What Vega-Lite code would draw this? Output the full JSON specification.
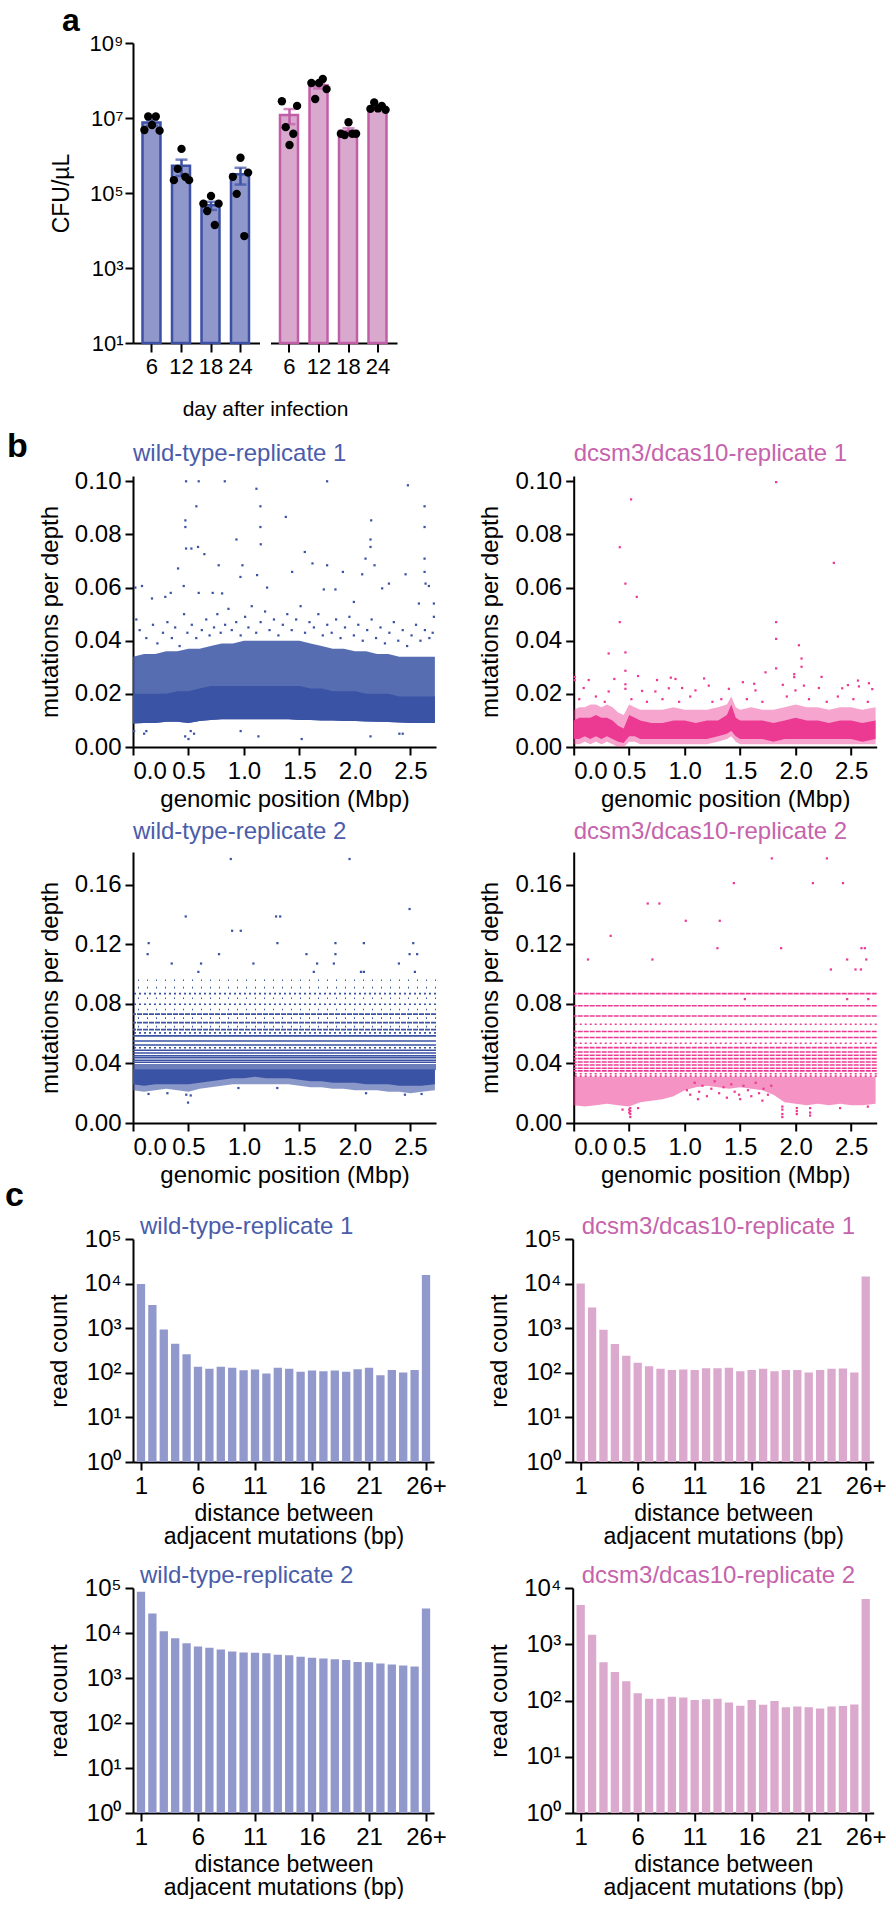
{
"$schema": "https://vega.github.io/schema/vega-lite/v6.json",
"background": "#ffffff",
"padding": {"left": 5, "top": 5, "right": 0, "bottom": 0},
"datasets": {
"cfu": [
{"strain":"wt","day":6,"rep":1,"cfu":4800000},{"strain":"wt","day":6,"rep":2,"cfu":11000000},{"strain":"wt","day":6,"rep":3,"cfu":6500000},{"strain":"wt","day":6,"rep":4,"cfu":11000000},{"strain":"wt","day":6,"rep":5,"cfu":4600000},
{"strain":"wt","day":12,"rep":1,"cfu":220000},{"strain":"wt","day":12,"rep":2,"cfu":440000},{"strain":"wt","day":12,"rep":3,"cfu":1500000},{"strain":"wt","day":12,"rep":4,"cfu":270000},{"strain":"wt","day":12,"rep":5,"cfu":220000},
{"strain":"wt","day":18,"rep":1,"cfu":52000},{"strain":"wt","day":18,"rep":2,"cfu":33000},{"strain":"wt","day":18,"rep":3,"cfu":83000},{"strain":"wt","day":18,"rep":4,"cfu":14000},{"strain":"wt","day":18,"rep":5,"cfu":52000},
{"strain":"wt","day":24,"rep":1,"cfu":270000},{"strain":"wt","day":24,"rep":2,"cfu":95000},{"strain":"wt","day":24,"rep":3,"cfu":870000},{"strain":"wt","day":24,"rep":4,"cfu":7100},{"strain":"wt","day":24,"rep":5,"cfu":350000},
{"strain":"ko","day":6,"rep":1,"cfu":28000000},{"strain":"ko","day":6,"rep":2,"cfu":5700000},{"strain":"ko","day":6,"rep":3,"cfu":1900000},{"strain":"ko","day":6,"rep":4,"cfu":3800000},{"strain":"ko","day":6,"rep":5,"cfu":21000000},
{"strain":"ko","day":12,"rep":1,"cfu":86000000},{"strain":"ko","day":12,"rep":2,"cfu":32000000},{"strain":"ko","day":12,"rep":3,"cfu":86000000},{"strain":"ko","day":12,"rep":4,"cfu":110000000},{"strain":"ko","day":12,"rep":5,"cfu":59000000},
{"strain":"ko","day":18,"rep":1,"cfu":3800000},{"strain":"ko","day":18,"rep":2,"cfu":3500000},{"strain":"ko","day":18,"rep":3,"cfu":7700000},{"strain":"ko","day":18,"rep":4,"cfu":3800000},{"strain":"ko","day":18,"rep":5,"cfu":3800000},
{"strain":"ko","day":24,"rep":1,"cfu":17500000},{"strain":"ko","day":24,"rep":2,"cfu":26000000},{"strain":"ko","day":24,"rep":3,"cfu":18000000},{"strain":"ko","day":24,"rep":4,"cfu":21000000},{"strain":"ko","day":24,"rep":5,"cfu":16500000}
],
"wt1band": [
{"pos":0,"lo":0.0088,"h1":0.020,"h2":0.034},{"pos":0.1,"lo":0.0090,"h1":0.020,"h2":0.035},{"pos":0.2,"lo":0.0090,"h1":0.020,"h2":0.035},{"pos":0.3,"lo":0.0095,"h1":0.020,"h2":0.036},{"pos":0.4,"lo":0.0095,"h1":0.021,"h2":0.036},{"pos":0.5,"lo":0.0090,"h1":0.021,"h2":0.037},{"pos":0.6,"lo":0.0098,"h1":0.022,"h2":0.037},{"pos":0.7,"lo":0.0102,"h1":0.023,"h2":0.038},{"pos":0.8,"lo":0.0104,"h1":0.023,"h2":0.039},{"pos":0.9,"lo":0.0104,"h1":0.023,"h2":0.039},{"pos":1.0,"lo":0.0104,"h1":0.023,"h2":0.040},{"pos":1.1,"lo":0.0104,"h1":0.023,"h2":0.040},{"pos":1.2,"lo":0.0104,"h1":0.023,"h2":0.040},{"pos":1.3,"lo":0.0104,"h1":0.023,"h2":0.040},{"pos":1.4,"lo":0.0104,"h1":0.023,"h2":0.040},{"pos":1.5,"lo":0.0102,"h1":0.023,"h2":0.040},{"pos":1.6,"lo":0.0102,"h1":0.022,"h2":0.039},{"pos":1.7,"lo":0.0100,"h1":0.022,"h2":0.038},{"pos":1.8,"lo":0.0100,"h1":0.021,"h2":0.037},{"pos":1.9,"lo":0.0098,"h1":0.021,"h2":0.037},{"pos":2.0,"lo":0.0098,"h1":0.021,"h2":0.036},{"pos":2.1,"lo":0.0096,"h1":0.020,"h2":0.036},{"pos":2.2,"lo":0.0095,"h1":0.020,"h2":0.035},{"pos":2.3,"lo":0.0094,"h1":0.020,"h2":0.035},{"pos":2.4,"lo":0.0092,"h1":0.019,"h2":0.034},{"pos":2.5,"lo":0.0090,"h1":0.019,"h2":0.034},{"pos":2.6,"lo":0.0090,"h1":0.019,"h2":0.034},{"pos":2.72,"lo":0.0090,"h1":0.019,"h2":0.034}
],
"wt1pts": [
{"pos":0.478,"v":0.100},{"pos":0.592,"v":0.100},{"pos":0.827,"v":0.100},{"pos":1.749,"v":0.100},{"pos":2.477,"v":0.0985},{"pos":1.112,"v":0.0972},{"pos":0.571,"v":0.0906},{"pos":1.148,"v":0.0906},{"pos":2.627,"v":0.0906},{"pos":1.377,"v":0.0866},{"pos":0.472,"v":0.0853},{"pos":0.472,"v":0.0828},{"pos":1.148,"v":0.0828},{"pos":2.146,"v":0.0853},{"pos":2.627,"v":0.0828},{"pos":0.932,"v":0.0781},{"pos":2.140,"v":0.0781},{"pos":2.140,"v":0.0753},{"pos":1.151,"v":0.0763},{"pos":0.478,"v":0.0747},{"pos":0.526,"v":0.0747},{"pos":0.586,"v":0.0753},{"pos":0.643,"v":0.0726},{"pos":1.548,"v":0.0734},{"pos":0.772,"v":0.0684},{"pos":0.986,"v":0.0684},{"pos":1.617,"v":0.0691},{"pos":1.749,"v":0.0684},{"pos":2.095,"v":0.0709},{"pos":2.176,"v":0.0684},{"pos":2.627,"v":0.0709},{"pos":2.627,"v":0.0659},{"pos":2.636,"v":0.0615},{"pos":2.666,"v":0.0606},{"pos":0.406,"v":0.0672},{"pos":1.118,"v":0.0647},{"pos":0.968,"v":0.0640},{"pos":1.891,"v":0.0659},{"pos":2.065,"v":0.0650},{"pos":2.456,"v":0.0650},{"pos":0.021,"v":0.0600},{"pos":0.081,"v":0.0606},{"pos":0.592,"v":0.0580},{"pos":0.718,"v":0.0580},{"pos":0.803,"v":0.0578},{"pos":0.457,"v":0.0606},{"pos":1.208,"v":0.0600},{"pos":1.434,"v":0.0659},{"pos":1.719,"v":0.0593},{"pos":1.824,"v":0.0593},{"pos":2.306,"v":0.0615},{"pos":1.990,"v":0.0546},{"pos":2.245,"v":0.0597},{"pos":0.171,"v":0.0559},{"pos":0.291,"v":0.0565},{"pos":0.340,"v":0.0580},{"pos":2.576,"v":0.0540},{"pos":2.711,"v":0.0540},{"pos":2.711,"v":0.0490},
{"pos":0.03,"v":0.048},{"pos":0.06,"v":0.044},{"pos":0.12,"v":0.041},{"pos":0.18,"v":0.046},{"pos":0.22,"v":0.039},{"pos":0.27,"v":0.043},{"pos":0.31,"v":0.047},{"pos":0.35,"v":0.041},{"pos":0.38,"v":0.045},{"pos":0.42,"v":0.038},{"pos":0.46,"v":0.050},{"pos":0.49,"v":0.043},{"pos":0.53,"v":0.046},{"pos":0.57,"v":0.041},{"pos":0.62,"v":0.044},{"pos":0.66,"v":0.048},{"pos":0.69,"v":0.042},{"pos":0.73,"v":0.045},{"pos":0.76,"v":0.050},{"pos":0.79,"v":0.043},{"pos":0.83,"v":0.046},{"pos":0.86,"v":0.052},{"pos":0.89,"v":0.044},{"pos":0.93,"v":0.047},{"pos":0.97,"v":0.042},{"pos":1.01,"v":0.049},{"pos":1.04,"v":0.045},{"pos":1.07,"v":0.053},{"pos":1.11,"v":0.043},{"pos":1.15,"v":0.047},{"pos":1.19,"v":0.051},{"pos":1.23,"v":0.044},{"pos":1.27,"v":0.048},{"pos":1.31,"v":0.042},{"pos":1.35,"v":0.046},{"pos":1.39,"v":0.050},{"pos":1.43,"v":0.044},{"pos":1.47,"v":0.048},{"pos":1.51,"v":0.053},{"pos":1.55,"v":0.043},{"pos":1.59,"v":0.047},{"pos":1.63,"v":0.045},{"pos":1.67,"v":0.050},{"pos":1.71,"v":0.042},{"pos":1.75,"v":0.046},{"pos":1.79,"v":0.043},{"pos":1.83,"v":0.048},{"pos":1.87,"v":0.041},{"pos":1.91,"v":0.045},{"pos":1.95,"v":0.049},{"pos":1.99,"v":0.042},{"pos":2.03,"v":0.046},{"pos":2.07,"v":0.040},{"pos":2.11,"v":0.044},{"pos":2.15,"v":0.048},{"pos":2.19,"v":0.041},{"pos":2.23,"v":0.045},{"pos":2.27,"v":0.039},{"pos":2.31,"v":0.043},{"pos":2.35,"v":0.047},{"pos":2.39,"v":0.040},{"pos":2.43,"v":0.044},{"pos":2.47,"v":0.038},{"pos":2.51,"v":0.042},{"pos":2.55,"v":0.046},{"pos":2.59,"v":0.040},{"pos":2.63,"v":0.044},{"pos":2.67,"v":0.041},{"pos":2.70,"v":0.043},
{"pos":0.01,"v":0.006},{"pos":0.10,"v":0.005},{"pos":0.12,"v":0.006},{"pos":0.47,"v":0.004},{"pos":0.50,"v":0.003},{"pos":0.52,"v":0.006},{"pos":0.55,"v":0.005},{"pos":0.97,"v":0.006},{"pos":1.13,"v":0.004},{"pos":1.52,"v":0.003},{"pos":2.14,"v":0.004},{"pos":2.40,"v":0.005},{"pos":2.43,"v":0.005}
],
"ko1band": [
{"pos":0,"lo":0.003,"hi":0.010,"lo2":0.001,"hi2":0.014},{"pos":0.05,"lo":0.003,"hi":0.011,"lo2":0.001,"hi2":0.015},{"pos":0.1,"lo":0.004,"hi":0.011,"lo2":0.002,"hi2":0.015},{"pos":0.15,"lo":0.003,"hi":0.011,"lo2":0.001,"hi2":0.016},{"pos":0.2,"lo":0.004,"hi":0.012,"lo2":0.002,"hi2":0.016},{"pos":0.25,"lo":0.003,"hi":0.011,"lo2":0.001,"hi2":0.015},{"pos":0.3,"lo":0.004,"hi":0.011,"lo2":0.002,"hi2":0.016},{"pos":0.35,"lo":0.003,"hi":0.010,"lo2":0.001,"hi2":0.015},{"pos":0.4,"lo":0.002,"hi":0.008,"lo2":0.0,"hi2":0.013},{"pos":0.45,"lo":0.0015,"hi":0.007,"lo2":0.0,"hi2":0.012},{"pos":0.5,"lo":0.004,"hi":0.012,"lo2":0.002,"hi2":0.016},{"pos":0.55,"lo":0.004,"hi":0.011,"lo2":0.002,"hi2":0.015},{"pos":0.6,"lo":0.003,"hi":0.010,"lo2":0.001,"hi2":0.014},{"pos":0.7,"lo":0.003,"hi":0.009,"lo2":0.001,"hi2":0.014},{"pos":0.8,"lo":0.003,"hi":0.009,"lo2":0.001,"hi2":0.014},{"pos":0.9,"lo":0.003,"hi":0.010,"lo2":0.001,"hi2":0.015},{"pos":1.0,"lo":0.003,"hi":0.010,"lo2":0.001,"hi2":0.014},{"pos":1.1,"lo":0.003,"hi":0.009,"lo2":0.001,"hi2":0.014},{"pos":1.2,"lo":0.003,"hi":0.010,"lo2":0.001,"hi2":0.014},{"pos":1.3,"lo":0.004,"hi":0.010,"lo2":0.002,"hi2":0.015},{"pos":1.38,"lo":0.005,"hi":0.012,"lo2":0.003,"hi2":0.016},{"pos":1.42,"lo":0.006,"hi":0.016,"lo2":0.004,"hi2":0.019},{"pos":1.46,"lo":0.004,"hi":0.011,"lo2":0.002,"hi2":0.015},{"pos":1.5,"lo":0.003,"hi":0.010,"lo2":0.001,"hi2":0.014},{"pos":1.6,"lo":0.003,"hi":0.010,"lo2":0.001,"hi2":0.015},{"pos":1.7,"lo":0.003,"hi":0.010,"lo2":0.001,"hi2":0.014},{"pos":1.8,"lo":0.002,"hi":0.009,"lo2":0.001,"hi2":0.014},{"pos":1.9,"lo":0.003,"hi":0.010,"lo2":0.001,"hi2":0.015},{"pos":2.0,"lo":0.003,"hi":0.011,"lo2":0.001,"hi2":0.016},{"pos":2.1,"lo":0.003,"hi":0.010,"lo2":0.001,"hi2":0.015},{"pos":2.2,"lo":0.003,"hi":0.010,"lo2":0.001,"hi2":0.015},{"pos":2.3,"lo":0.003,"hi":0.009,"lo2":0.001,"hi2":0.014},{"pos":2.4,"lo":0.003,"hi":0.010,"lo2":0.001,"hi2":0.015},{"pos":2.5,"lo":0.003,"hi":0.010,"lo2":0.001,"hi2":0.015},{"pos":2.6,"lo":0.002,"hi":0.009,"lo2":0.001,"hi2":0.014},{"pos":2.72,"lo":0.003,"hi":0.010,"lo2":0.001,"hi2":0.015}
],
"ko1pts": [
{"pos":1.824,"v":0.0997},{"pos":0.517,"v":0.0932},{"pos":0.415,"v":0.0752},{"pos":2.344,"v":0.0693},{"pos":0.466,"v":0.0615},{"pos":0.568,"v":0.0565},{"pos":0.415,"v":0.0470},{"pos":1.824,"v":0.0470},{"pos":1.824,"v":0.0407},{"pos":2.029,"v":0.0383},{"pos":2.053,"v":0.0333},{"pos":2.053,"v":0.0302},{"pos":0.315,"v":0.0352},{"pos":0.466,"v":0.0356},{"pos":0.466,"v":0.0287},{"pos":1.824,"v":0.0296},{"pos":1.728,"v":0.0281},{"pos":0.009,"v":0.0264},{"pos":0.009,"v":0.0252},{"pos":0.366,"v":0.0256},{"pos":0.580,"v":0.0267},{"pos":0.751,"v":0.0252},{"pos":0.875,"v":0.0261},{"pos":0.917,"v":0.0256},{"pos":1.175,"v":0.0258},{"pos":1.987,"v":0.0274},{"pos":1.987,"v":0.0263},{"pos":2.233,"v":0.0264},{"pos":2.561,"v":0.0250},{"pos":2.660,"v":0.0240},{"pos":1.524,"v":0.0244},{"pos":1.626,"v":0.0238},{"pos":0.135,"v":0.0252},{"pos":0.466,"v":0.0236},{"pos":0.466,"v":0.0219},{"pos":0.090,"v":0.0222},{"pos":2.471,"v":0.0233},{"pos":1.884,"v":0.0234},{"pos":2.074,"v":0.0231},{"pos":2.209,"v":0.0222},{"pos":2.419,"v":0.0221},{"pos":2.570,"v":0.0228},{"pos":2.690,"v":0.0218},{"pos":1.217,"v":0.0231},{"pos":0.857,"v":0.0221},{"pos":0.977,"v":0.0222},{"pos":1.097,"v":0.0213},{"pos":1.398,"v":0.0219},{"pos":1.638,"v":0.0213},{"pos":0.736,"v":0.0209},{"pos":1.998,"v":0.0213},{"pos":0.315,"v":0.0209},{"pos":0.616,"v":0.0211},
{"pos":0.05,"v":0.018},{"pos":0.2,"v":0.019},{"pos":0.28,"v":0.017},{"pos":0.52,"v":0.018},{"pos":0.66,"v":0.017},{"pos":0.8,"v":0.018},{"pos":0.95,"v":0.017},{"pos":1.05,"v":0.019},{"pos":1.25,"v":0.017},{"pos":1.33,"v":0.018},{"pos":1.56,"v":0.018},{"pos":1.7,"v":0.017},{"pos":1.92,"v":0.019},{"pos":2.12,"v":0.018},{"pos":2.28,"v":0.017},{"pos":2.38,"v":0.019},{"pos":2.52,"v":0.018},{"pos":2.65,"v":0.017}
],
"wt2lines": [
{"lv":0.0959,"dens":"sparse"},{"lv":0.0909,"dens":"sparse"},{"lv":0.0869,"dens":"medium"},{"lv":0.0838,"dens":"sparse"},{"lv":0.0798,"dens":"medium"},{"lv":0.0762,"dens":"sparse"},{"lv":0.0731,"dens":"dense"},{"lv":0.0704,"dens":"sparse"},{"lv":0.0674,"dens":"dense"},{"lv":0.0647,"dens":"sparse"},{"lv":0.0627,"dens":"dense"},{"lv":0.0605,"dens":"medium"},{"lv":0.0585,"dens":"solid"},{"lv":0.0551,"dens":"solid"},{"lv":0.0524,"dens":"solid"},{"lv":0.0505,"dens":"medium"},{"lv":0.0489,"dens":"solid"},{"lv":0.0470,"dens":"solid"},{"lv":0.0452,"dens":"solid"},{"lv":0.0439,"dens":"solid"},{"lv":0.0421,"dens":"solid"},{"lv":0.0408,"dens":"solid"},{"lv":0.0390,"dens":"solid"},{"lv":0.0376,"dens":"solid"},{"lv":0.0363,"dens":"solid"}
],
"wt2band": [
{"pos":0,"lo":0.026,"lo2":0.022,"hi":0.036},{"pos":0.1,"lo":0.025,"lo2":0.021,"hi":0.036},{"pos":0.2,"lo":0.026,"lo2":0.022,"hi":0.036},{"pos":0.3,"lo":0.026,"lo2":0.023,"hi":0.036},{"pos":0.4,"lo":0.026,"lo2":0.022,"hi":0.036},{"pos":0.5,"lo":0.026,"lo2":0.021,"hi":0.036},{"pos":0.6,"lo":0.027,"lo2":0.023,"hi":0.036},{"pos":0.7,"lo":0.028,"lo2":0.024,"hi":0.036},{"pos":0.8,"lo":0.029,"lo2":0.025,"hi":0.036},{"pos":0.9,"lo":0.030,"lo2":0.026,"hi":0.036},{"pos":1.0,"lo":0.030,"lo2":0.026,"hi":0.036},{"pos":1.1,"lo":0.031,"lo2":0.026,"hi":0.036},{"pos":1.2,"lo":0.030,"lo2":0.026,"hi":0.036},{"pos":1.3,"lo":0.030,"lo2":0.026,"hi":0.036},{"pos":1.4,"lo":0.030,"lo2":0.026,"hi":0.036},{"pos":1.5,"lo":0.029,"lo2":0.025,"hi":0.036},{"pos":1.6,"lo":0.028,"lo2":0.024,"hi":0.036},{"pos":1.7,"lo":0.028,"lo2":0.024,"hi":0.036},{"pos":1.8,"lo":0.027,"lo2":0.023,"hi":0.036},{"pos":1.9,"lo":0.027,"lo2":0.023,"hi":0.036},{"pos":2.0,"lo":0.027,"lo2":0.022,"hi":0.036},{"pos":2.1,"lo":0.026,"lo2":0.022,"hi":0.036},{"pos":2.2,"lo":0.026,"lo2":0.022,"hi":0.036},{"pos":2.3,"lo":0.026,"lo2":0.021,"hi":0.036},{"pos":2.4,"lo":0.025,"lo2":0.021,"hi":0.036},{"pos":2.5,"lo":0.025,"lo2":0.020,"hi":0.036},{"pos":2.6,"lo":0.025,"lo2":0.021,"hi":0.036},{"pos":2.72,"lo":0.026,"lo2":0.022,"hi":0.036}
],
"wt2pts": [
{"pos":0.881,"v":0.1773},{"pos":1.951,"v":0.1773},{"pos":2.492,"v":0.1437},{"pos":0.475,"v":0.1387},{"pos":1.289,"v":0.1387},{"pos":1.326,"v":0.1387},{"pos":0.893,"v":0.1291},{"pos":0.971,"v":0.1291},{"pos":0.141,"v":0.1208},{"pos":1.301,"v":0.1208},{"pos":1.824,"v":0.1208},{"pos":2.080,"v":0.1208},{"pos":2.525,"v":0.1208},{"pos":0.132,"v":0.1134},{"pos":0.775,"v":0.1134},{"pos":1.563,"v":0.1134},{"pos":1.824,"v":0.1134},{"pos":2.492,"v":0.1134},{"pos":2.560,"v":0.1134},{"pos":0.349,"v":0.1071},{"pos":0.613,"v":0.1071},{"pos":1.085,"v":0.1071},{"pos":1.659,"v":0.1071},{"pos":1.810,"v":0.1071},{"pos":2.396,"v":0.1071},{"pos":0.589,"v":0.1015},{"pos":1.629,"v":0.1015},{"pos":2.054,"v":0.1015},{"pos":2.080,"v":0.1015},{"pos":2.540,"v":0.1015},
{"pos":0.496,"v":0.0137},{"pos":0.48,"v":0.019},{"pos":0.52,"v":0.0185},{"pos":0.14,"v":0.0195},{"pos":0.31,"v":0.020},{"pos":2.45,"v":0.019},{"pos":2.60,"v":0.0195},{"pos":2.1,"v":0.020},{"pos":0.95,"v":0.0235},{"pos":1.3,"v":0.0235}
],
"ko2lines": [
{"lv":0.0869,"dens":"dense"},{"lv":0.0787,"dens":"dense"},{"lv":0.0719,"dens":"dense"},{"lv":0.0663,"dens":"medium"},{"lv":0.0614,"dens":"dense"},{"lv":0.0574,"dens":"dense"},{"lv":0.0536,"dens":"medium"},{"lv":0.0506,"dens":"dense"},{"lv":0.0477,"dens":"dense"},{"lv":0.0455,"dens":"dense"},{"lv":0.0432,"dens":"dense"},{"lv":0.0410,"dens":"dense"},{"lv":0.0390,"dens":"dense"},{"lv":0.0368,"dens":"dense"},{"lv":0.0350,"dens":"dense"},{"lv":0.0331,"dens":"medium"},{"lv":0.0315,"dens":"medium"}
],
"ko2band": [
{"pos":0,"lo":0.012,"hi":0.031},{"pos":0.1,"lo":0.011,"hi":0.031},{"pos":0.2,"lo":0.012,"hi":0.031},{"pos":0.3,"lo":0.013,"hi":0.031},{"pos":0.4,"lo":0.012,"hi":0.031},{"pos":0.5,"lo":0.011,"hi":0.031},{"pos":0.6,"lo":0.014,"hi":0.031},{"pos":0.7,"lo":0.015,"hi":0.031},{"pos":0.8,"lo":0.016,"hi":0.031},{"pos":0.9,"lo":0.018,"hi":0.031},{"pos":1.0,"lo":0.022,"hi":0.031},{"pos":1.1,"lo":0.024,"hi":0.031},{"pos":1.2,"lo":0.025,"hi":0.031},{"pos":1.3,"lo":0.024,"hi":0.031},{"pos":1.4,"lo":0.023,"hi":0.031},{"pos":1.5,"lo":0.024,"hi":0.031},{"pos":1.6,"lo":0.023,"hi":0.031},{"pos":1.7,"lo":0.022,"hi":0.031},{"pos":1.8,"lo":0.019,"hi":0.031},{"pos":1.9,"lo":0.014,"hi":0.031},{"pos":2.0,"lo":0.013,"hi":0.031},{"pos":2.1,"lo":0.012,"hi":0.031},{"pos":2.2,"lo":0.013,"hi":0.031},{"pos":2.3,"lo":0.012,"hi":0.031},{"pos":2.4,"lo":0.013,"hi":0.031},{"pos":2.5,"lo":0.012,"hi":0.031},{"pos":2.6,"lo":0.012,"hi":0.031},{"pos":2.72,"lo":0.013,"hi":0.031}
],
"ko2pts": [
{"pos":1.785,"v":0.1777},{"pos":2.281,"v":0.1777},{"pos":1.443,"v":0.1611},{"pos":2.155,"v":0.1611},{"pos":2.426,"v":0.1611},{"pos":0.667,"v":0.1474},{"pos":0.772,"v":0.1474},{"pos":1.010,"v":0.1358},{"pos":1.316,"v":0.1358},{"pos":0.333,"v":0.1257},{"pos":1.295,"v":0.1174},{"pos":1.869,"v":0.1174},{"pos":2.593,"v":0.1174},{"pos":2.624,"v":0.1174},{"pos":0.129,"v":0.1098},{"pos":0.709,"v":0.1098},{"pos":2.464,"v":0.1098},{"pos":2.636,"v":0.1098},{"pos":2.317,"v":0.1031},{"pos":2.539,"v":0.1031},{"pos":2.588,"v":0.1031},{"pos":1.542,"v":0.0832},{"pos":2.464,"v":0.0832},{"pos":2.654,"v":0.0832},
{"pos":0.51,"v":0.004},{"pos":0.51,"v":0.006},{"pos":0.51,"v":0.008},{"pos":0.51,"v":0.010},{"pos":0.50,"v":0.007},{"pos":0.50,"v":0.009},{"pos":1.88,"v":0.004},{"pos":1.88,"v":0.006},{"pos":1.88,"v":0.009},{"pos":1.88,"v":0.011},{"pos":2.01,"v":0.006},{"pos":2.01,"v":0.008},{"pos":2.01,"v":0.010},{"pos":2.13,"v":0.005},{"pos":2.13,"v":0.007},{"pos":2.13,"v":0.010},{"pos":0.44,"v":0.009},{"pos":0.58,"v":0.010},{"pos":2.40,"v":0.010},{"pos":2.65,"v":0.011},
{"pos":1.02,"v":0.022},{"pos":1.05,"v":0.019},{"pos":1.09,"v":0.027},{"pos":1.13,"v":0.021},{"pos":1.16,"v":0.025},{"pos":1.2,"v":0.018},{"pos":1.24,"v":0.023},{"pos":1.27,"v":0.028},{"pos":1.31,"v":0.020},{"pos":1.35,"v":0.024},{"pos":1.38,"v":0.017},{"pos":1.42,"v":0.026},{"pos":1.45,"v":0.021},{"pos":1.49,"v":0.019},{"pos":1.53,"v":0.025},{"pos":1.57,"v":0.022},{"pos":1.6,"v":0.018},{"pos":1.64,"v":0.027},{"pos":1.67,"v":0.020},{"pos":1.71,"v":0.023},{"pos":1.75,"v":0.019},{"pos":1.78,"v":0.025},{"pos":1.12,"v":0.016},{"pos":1.5,"v":0.016},{"pos":1.7,"v":0.015}
],
"dist": [
{"s":"wt1","d":"1","n":9800},{"s":"wt1","d":"2","n":3300},{"s":"wt1","d":"3","n":940},{"s":"wt1","d":"4","n":450},{"s":"wt1","d":"5","n":260},{"s":"wt1","d":"6","n":136},{"s":"wt1","d":"7","n":123},{"s":"wt1","d":"8","n":136},{"s":"wt1","d":"9","n":129},{"s":"wt1","d":"10","n":114},{"s":"wt1","d":"11","n":118},{"s":"wt1","d":"12","n":96},{"s":"wt1","d":"13","n":129},{"s":"wt1","d":"14","n":123},{"s":"wt1","d":"15","n":105},{"s":"wt1","d":"16","n":112},{"s":"wt1","d":"17","n":109},{"s":"wt1","d":"18","n":112},{"s":"wt1","d":"19","n":105},{"s":"wt1","d":"20","n":120},{"s":"wt1","d":"21","n":129},{"s":"wt1","d":"22","n":88},{"s":"wt1","d":"23","n":116},{"s":"wt1","d":"24","n":102},{"s":"wt1","d":"25","n":116},{"s":"wt1","d":"26+","n":15500},
{"s":"ko1","d":"1","n":10000},{"s":"ko1","d":"2","n":2900},{"s":"ko1","d":"3","n":920},{"s":"ko1","d":"4","n":440},{"s":"ko1","d":"5","n":240},{"s":"ko1","d":"6","n":167},{"s":"ko1","d":"7","n":140},{"s":"ko1","d":"8","n":123},{"s":"ko1","d":"9","n":115},{"s":"ko1","d":"10","n":118},{"s":"ko1","d":"11","n":115},{"s":"ko1","d":"12","n":126},{"s":"ko1","d":"13","n":126},{"s":"ko1","d":"14","n":129},{"s":"ko1","d":"15","n":109},{"s":"ko1","d":"16","n":115},{"s":"ko1","d":"17","n":123},{"s":"ko1","d":"18","n":109},{"s":"ko1","d":"19","n":115},{"s":"ko1","d":"20","n":115},{"s":"ko1","d":"21","n":102},{"s":"ko1","d":"22","n":115},{"s":"ko1","d":"23","n":123},{"s":"ko1","d":"24","n":125},{"s":"ko1","d":"25","n":102},{"s":"ko1","d":"26+","n":14500},
{"s":"wt2","d":"1","n":83000},{"s":"wt2","d":"2","n":27000},{"s":"wt2","d":"3","n":11000},{"s":"wt2","d":"4","n":7600},{"s":"wt2","d":"5","n":5900},{"s":"wt2","d":"6","n":5000},{"s":"wt2","d":"7","n":4700},{"s":"wt2","d":"8","n":4300},{"s":"wt2","d":"9","n":3900},{"s":"wt2","d":"10","n":3700},{"s":"wt2","d":"11","n":3650},{"s":"wt2","d":"12","n":3550},{"s":"wt2","d":"13","n":3300},{"s":"wt2","d":"14","n":3200},{"s":"wt2","d":"15","n":2970},{"s":"wt2","d":"16","n":2830},{"s":"wt2","d":"17","n":2700},{"s":"wt2","d":"18","n":2600},{"s":"wt2","d":"19","n":2500},{"s":"wt2","d":"20","n":2270},{"s":"wt2","d":"21","n":2240},{"s":"wt2","d":"22","n":2100},{"s":"wt2","d":"23","n":2000},{"s":"wt2","d":"24","n":1900},{"s":"wt2","d":"25","n":1800},{"s":"wt2","d":"26+","n":35000},
{"s":"ko2","d":"1","n":5000},{"s":"ko2","d":"2","n":1480},{"s":"ko2","d":"3","n":480},{"s":"ko2","d":"4","n":320},{"s":"ko2","d":"5","n":220},{"s":"ko2","d":"6","n":135},{"s":"ko2","d":"7","n":107},{"s":"ko2","d":"8","n":107},{"s":"ko2","d":"9","n":117},{"s":"ko2","d":"10","n":113},{"s":"ko2","d":"11","n":102},{"s":"ko2","d":"12","n":105},{"s":"ko2","d":"13","n":107},{"s":"ko2","d":"14","n":92},{"s":"ko2","d":"15","n":81},{"s":"ko2","d":"16","n":102},{"s":"ko2","d":"17","n":84},{"s":"ko2","d":"18","n":98},{"s":"ko2","d":"19","n":76},{"s":"ko2","d":"20","n":78},{"s":"ko2","d":"21","n":76},{"s":"ko2","d":"22","n":72},{"s":"ko2","d":"23","n":78},{"s":"ko2","d":"24","n":80},{"s":"ko2","d":"25","n":85},{"s":"ko2","d":"26+","n":6400}
]
},
"spacing": 11,
"vconcat": [
{
"bounds": "flush",
"spacing": 10.5,
"hconcat": [
{
"width": 126.5, "height": 300,
"data": {"name": "cfu"},
"transform": [{"filter": "datum.strain === 'wt'"}],
"title": {"text": "a", "anchor": "start", "frame": "group", "fontSize": 32, "fontWeight": "bold", "color": "#000000", "dx": -71, "offset": -6},
"encoding": {"x": {"field": "day", "type": "ordinal", "scale": {"paddingInner": 0.356, "paddingOuter": 0.322}, "axis": {"labelAngle": 0, "labelFont": "Liberation Sans Narrow, Liberation Sans", "labelFontSize": 22, "labelPadding": 4, "tickSize": 9, "title": "day after infection", "titleFont": "Liberation Sans Narrow, Liberation Sans", "titleFontSize": 21, "titleX": 132, "titleAnchor": "middle", "titlePadding": 21}}},
"layer": [
{"mark": {"type": "bar", "fill": "#9097CB", "stroke": "#3C50A5", "strokeWidth": 2.5},
 "encoding": {"y": {"aggregate": "mean", "field": "cfu", "type": "quantitative", "title": "CFU/µL", "scale": {"type": "log", "domain": [10, 1000000000], "nice": false}, "axis": {"values": [10, 1000, 100000, 10000000, 1000000000], "labelExpr": "datum.value == 10 ? '10¹' : datum.value == 1000 ? '10³' : datum.value == 100000 ? '10⁵' : datum.value == 10000000 ? '10⁷' : '10⁹'", "labelFont": "Liberation Sans Narrow, Liberation Sans", "labelFontSize": 22, "labelPadding": 2, "titleFontSize": 23, "titlePadding": 16}}, "y2": {"datum": 10}}},
{"mark": {"type": "errorbar", "extent": "stderr", "color": "#3C50A5", "thickness": 2.5, "ticks": {"size": 12}},
 "encoding": {"y": {"field": "cfu", "type": "quantitative", "title": "CFU/µL"}}},
{"mark": {"type": "circle", "color": "#000000", "opacity": 1, "size": 70},
 "encoding": {"xOffset": {"field": "rep", "type": "ordinal"}, "y": {"field": "cfu", "type": "quantitative", "title": "CFU/µL"}}}
]
},
{
"width": 126.5, "height": 300,
"data": {"name": "cfu"},
"transform": [{"filter": "datum.strain === 'ko'"}],
"encoding": {"x": {"field": "day", "type": "ordinal", "scale": {"paddingInner": 0.356, "paddingOuter": 0.322}, "axis": {"labelAngle": 0, "labelFont": "Liberation Sans Narrow, Liberation Sans", "labelFontSize": 22, "labelPadding": 4, "tickSize": 9, "title": null}}},
"layer": [
{"mark": {"type": "bar", "fill": "#D9A9CD", "stroke": "#C25DA8", "strokeWidth": 2.5},
 "encoding": {"y": {"aggregate": "mean", "field": "cfu", "type": "quantitative", "scale": {"type": "log", "domain": [10, 1000000000], "nice": false}, "axis": null}, "y2": {"datum": 10}}},
{"mark": {"type": "errorbar", "extent": "stderr", "color": "#C25DA8", "thickness": 2.5, "ticks": {"size": 12}},
 "encoding": {"y": {"field": "cfu", "type": "quantitative"}}},
{"mark": {"type": "circle", "color": "#000000", "opacity": 1, "size": 70},
 "encoding": {"xOffset": {"field": "rep", "type": "ordinal"}, "y": {"field": "cfu", "type": "quantitative"}}}
]
}
]
},
{
"spacing": -9,
"vconcat": [
{
"title": {"text": "b", "anchor": "start", "frame": "group", "fontSize": 34, "fontWeight": "bold", "color": "#000000", "dx": -126, "offset": -22},
"spacing": 9,
"vconcat": [
{
"bounds": "flush",
"spacing": 137.7,
"hconcat": [
{
"width": 303, "height": 271,
"title": {"text": "wild-type-replicate 1", "color": "#4A5CAA", "offset": 3},
"encoding": {"x": {"field": "pos", "type": "quantitative", "scale": {"domain": [0, 2.73], "nice": false, "zero": false}, "axis": {"values": [0, 0.5, 1, 1.5, 2, 2.5], "format": ".1f", "title": "genomic position (Mbp)", "titlePadding": 4}}},
"layer": [
{"data": {"name": "wt1band"}, "mark": {"type": "area", "color": "#3A53A4", "opacity": 0.85}, "encoding": {"y": {"field": "h2", "type": "quantitative", "title": "mutations per depth", "scale": {"domain": [0, 0.102], "nice": false}, "axis": {"values": [0, 0.02, 0.04, 0.06, 0.08, 0.1], "format": ".2f", "titlePadding": 12}}, "y2": {"field": "lo"}}},
{"data": {"name": "wt1band"}, "mark": {"type": "area", "color": "#3A53A4"}, "encoding": {"y": {"field": "h1", "type": "quantitative", "title": "mutations per depth"}, "y2": {"field": "lo"}}},
{"data": {"name": "wt1pts"}, "mark": {"type": "square", "color": "#3A53A4", "size": 5, "opacity": 1}, "encoding": {"y": {"field": "v", "type": "quantitative", "title": "mutations per depth"}}}
]
},
{
"width": 303, "height": 271,
"title": {"text": "dcsm3/dcas10-replicate 1", "color": "#C663AC", "offset": 3},
"encoding": {"x": {"field": "pos", "type": "quantitative", "scale": {"domain": [0, 2.73], "nice": false, "zero": false}, "axis": {"values": [0, 0.5, 1, 1.5, 2, 2.5], "format": ".1f", "title": "genomic position (Mbp)", "titlePadding": 4}}},
"layer": [
{"data": {"name": "ko1band"}, "mark": {"type": "area", "color": "#EC3A93", "opacity": 0.45}, "encoding": {"y": {"field": "hi2", "type": "quantitative", "title": "mutations per depth", "scale": {"domain": [0, 0.102], "nice": false}, "axis": {"values": [0, 0.02, 0.04, 0.06, 0.08, 0.1], "format": ".2f", "titlePadding": 12}}, "y2": {"field": "lo2"}}},
{"data": {"name": "ko1band"}, "mark": {"type": "area", "color": "#EC3A93"}, "encoding": {"y": {"field": "hi", "type": "quantitative", "title": "mutations per depth"}, "y2": {"field": "lo"}}},
{"data": {"name": "ko1pts"}, "mark": {"type": "square", "color": "#EC3A93", "size": 5, "opacity": 1}, "encoding": {"y": {"field": "v", "type": "quantitative", "title": "mutations per depth"}}}
]
}
]
},
{
"bounds": "flush",
"spacing": 137.7,
"hconcat": [
{
"width": 303, "height": 271,
"title": {"text": "wild-type-replicate 2", "color": "#4A5CAA"},
"layer": [
{"data": {"name": "wt2band"}, "mark": {"type": "area", "color": "#3A53A4", "opacity": 0.6}, "encoding": {"x": {"field": "pos", "type": "quantitative", "scale": {"domain": [0, 2.73], "nice": false, "zero": false}, "axis": {"values": [0, 0.5, 1, 1.5, 2, 2.5], "format": ".1f", "title": "genomic position (Mbp)", "titlePadding": 4}}, "y": {"field": "hi", "type": "quantitative", "title": "mutations per depth", "scale": {"domain": [0, 0.182], "nice": false}, "axis": {"values": [0, 0.04, 0.08, 0.12, 0.16], "format": ".2f", "titlePadding": 12}}, "y2": {"field": "lo2"}}},
{"data": {"name": "wt2band"}, "mark": {"type": "area", "color": "#3A53A4"}, "encoding": {"x": {"field": "pos", "type": "quantitative"}, "y": {"field": "hi", "type": "quantitative", "title": "mutations per depth"}, "y2": {"field": "lo"}}},
{"data": {"name": "wt2lines"}, "transform": [{"filter": "datum.dens === 'solid'"}], "mark": {"type": "rule", "color": "#3A53A4", "strokeWidth": 1.6}, "encoding": {"y": {"field": "lv", "type": "quantitative", "title": "mutations per depth"}}},
{"data": {"name": "wt2lines"}, "transform": [{"filter": "datum.dens === 'dense'"}], "mark": {"type": "rule", "color": "#3A53A4", "strokeWidth": 1.6, "strokeDash": [5, 1]}, "encoding": {"y": {"field": "lv", "type": "quantitative", "title": "mutations per depth"}}},
{"data": {"name": "wt2lines"}, "transform": [{"filter": "datum.dens === 'medium'"}], "mark": {"type": "rule", "color": "#3A53A4", "strokeWidth": 1.6, "strokeDash": [2, 3]}, "encoding": {"y": {"field": "lv", "type": "quantitative", "title": "mutations per depth"}}},
{"data": {"name": "wt2lines"}, "transform": [{"filter": "datum.dens === 'sparse'"}], "mark": {"type": "rule", "color": "#3A53A4", "strokeWidth": 1.6, "strokeDash": [1, 8]}, "encoding": {"y": {"field": "lv", "type": "quantitative", "title": "mutations per depth"}}},
{"data": {"name": "wt2pts"}, "mark": {"type": "square", "color": "#3A53A4", "size": 5, "opacity": 1}, "encoding": {"x": {"field": "pos", "type": "quantitative"}, "y": {"field": "v", "type": "quantitative", "title": "mutations per depth"}}}
]
},
{
"width": 303, "height": 271,
"title": {"text": "dcsm3/dcas10-replicate 2", "color": "#C663AC"},
"layer": [
{"data": {"name": "ko2band"}, "mark": {"type": "area", "color": "#EC3A93", "opacity": 0.55}, "encoding": {"x": {"field": "pos", "type": "quantitative", "scale": {"domain": [0, 2.73], "nice": false, "zero": false}, "axis": {"values": [0, 0.5, 1, 1.5, 2, 2.5], "format": ".1f", "title": "genomic position (Mbp)", "titlePadding": 4}}, "y": {"field": "hi", "type": "quantitative", "title": "mutations per depth", "scale": {"domain": [0, 0.182], "nice": false}, "axis": {"values": [0, 0.04, 0.08, 0.12, 0.16], "format": ".2f", "titlePadding": 12}}, "y2": {"field": "lo"}}},
{"data": {"name": "ko2lines"}, "transform": [{"filter": "datum.dens === 'dense'"}], "mark": {"type": "rule", "color": "#EC3A93", "strokeWidth": 1.6, "strokeDash": [5, 1]}, "encoding": {"y": {"field": "lv", "type": "quantitative", "title": "mutations per depth"}}},
{"data": {"name": "ko2lines"}, "transform": [{"filter": "datum.dens === 'medium'"}], "mark": {"type": "rule", "color": "#EC3A93", "strokeWidth": 1.6, "strokeDash": [2, 3]}, "encoding": {"y": {"field": "lv", "type": "quantitative", "title": "mutations per depth"}}},
{"data": {"name": "ko2pts"}, "mark": {"type": "square", "color": "#EC3A93", "size": 5, "opacity": 1}, "encoding": {"x": {"field": "pos", "type": "quantitative"}, "y": {"field": "v", "type": "quantitative", "title": "mutations per depth"}}}
]
}
]
}
]
},
{
"title": {"text": "c", "anchor": "start", "frame": "group", "fontSize": 34, "fontWeight": "bold", "color": "#000000", "dx": -128, "offset": 2.5},
"spacing": 16,
"vconcat": [
{
"bounds": "flush",
"spacing": 138.7,
"hconcat": [
{
"width": 301, "height": 223,
"title": {"text": "wild-type-replicate 1", "color": "#4A5CAA", "dx": 7, "offset": -12},
"data": {"name": "dist"},
"transform": [{"filter": "datum.s === 'wt1'"}],
"mark": {"type": "rule", "color": "#9198CB", "strokeWidth": 8.3, "strokeCap": "butt"},
"encoding": {
"x": {"field": "d", "type": "ordinal", "sort": ["1","2","3","4","5","6","7","8","9","10","11","12","13","14","15","16","17","18","19","20","21","22","23","24","25","26+"], "scale": {"type": "point", "padding": 0.7}, "axis": {"values": ["1", "6", "11", "16", "21", "26+"], "labelAngle": 0, "title": ["distance between", "adjacent mutations (bp)"], "titleFontSize": 23, "titleLineHeight": 23, "titlePadding": 4}},
"y": {"field": "n", "type": "quantitative", "title": "read count", "scale": {"type": "log", "domain": [1, 100000], "nice": false}, "axis": {"values": [1, 10, 100, 1000, 10000, 100000], "labelExpr": "datum.value == 1 ? '10⁰' : datum.value == 10 ? '10¹' : datum.value == 100 ? '10²' : datum.value == 1000 ? '10³' : datum.value == 10000 ? '10⁴' : '10⁵'", "titlePadding": 12}},
"y2": {"datum": 1}
}
},
{
"width": 301, "height": 223,
"title": {"text": "dcsm3/dcas10-replicate 1", "color": "#C663AC", "dx": 9, "offset": -12},
"data": {"name": "dist"},
"transform": [{"filter": "datum.s === 'ko1'"}],
"mark": {"type": "rule", "color": "#DAA9CD", "strokeWidth": 8.3, "strokeCap": "butt"},
"encoding": {
"x": {"field": "d", "type": "ordinal", "sort": ["1","2","3","4","5","6","7","8","9","10","11","12","13","14","15","16","17","18","19","20","21","22","23","24","25","26+"], "scale": {"type": "point", "padding": 0.7}, "axis": {"values": ["1", "6", "11", "16", "21", "26+"], "labelAngle": 0, "title": ["distance between", "adjacent mutations (bp)"], "titleFontSize": 23, "titleLineHeight": 23, "titlePadding": 4}},
"y": {"field": "n", "type": "quantitative", "title": "read count", "scale": {"type": "log", "domain": [1, 100000], "nice": false}, "axis": {"values": [1, 10, 100, 1000, 10000, 100000], "labelExpr": "datum.value == 1 ? '10⁰' : datum.value == 10 ? '10¹' : datum.value == 100 ? '10²' : datum.value == 1000 ? '10³' : datum.value == 10000 ? '10⁴' : '10⁵'", "titlePadding": 12}},
"y2": {"datum": 1}
}
}
]
},
{
"bounds": "flush",
"spacing": 138.7,
"hconcat": [
{
"width": 301, "height": 225,
"title": {"text": "wild-type-replicate 2", "color": "#4A5CAA", "dx": 7, "offset": -12},
"data": {"name": "dist"},
"transform": [{"filter": "datum.s === 'wt2'"}],
"mark": {"type": "rule", "color": "#9198CB", "strokeWidth": 8.3, "strokeCap": "butt"},
"encoding": {
"x": {"field": "d", "type": "ordinal", "sort": ["1","2","3","4","5","6","7","8","9","10","11","12","13","14","15","16","17","18","19","20","21","22","23","24","25","26+"], "scale": {"type": "point", "padding": 0.7}, "axis": {"values": ["1", "6", "11", "16", "21", "26+"], "labelAngle": 0, "title": ["distance between", "adjacent mutations (bp)"], "titleFontSize": 23, "titleLineHeight": 23, "titlePadding": 4}},
"y": {"field": "n", "type": "quantitative", "title": "read count", "scale": {"type": "log", "domain": [1, 100000], "nice": false}, "axis": {"values": [1, 10, 100, 1000, 10000, 100000], "labelExpr": "datum.value == 1 ? '10⁰' : datum.value == 10 ? '10¹' : datum.value == 100 ? '10²' : datum.value == 1000 ? '10³' : datum.value == 10000 ? '10⁴' : '10⁵'", "titlePadding": 12}},
"y2": {"datum": 1}
}
},
{
"width": 301, "height": 225,
"title": {"text": "dcsm3/dcas10-replicate 2", "color": "#C663AC", "dx": 9, "offset": -12},
"data": {"name": "dist"},
"transform": [{"filter": "datum.s === 'ko2'"}],
"mark": {"type": "rule", "color": "#DAA9CD", "strokeWidth": 8.3, "strokeCap": "butt"},
"encoding": {
"x": {"field": "d", "type": "ordinal", "sort": ["1","2","3","4","5","6","7","8","9","10","11","12","13","14","15","16","17","18","19","20","21","22","23","24","25","26+"], "scale": {"type": "point", "padding": 0.7}, "axis": {"values": ["1", "6", "11", "16", "21", "26+"], "labelAngle": 0, "title": ["distance between", "adjacent mutations (bp)"], "titleFontSize": 23, "titleLineHeight": 23, "titlePadding": 4}},
"y": {"field": "n", "type": "quantitative", "title": "read count", "scale": {"type": "log", "domain": [1, 10000], "nice": false}, "axis": {"values": [1, 10, 100, 1000, 10000], "labelExpr": "datum.value == 1 ? '10⁰' : datum.value == 10 ? '10¹' : datum.value == 100 ? '10²' : datum.value == 1000 ? '10³' : '10⁴'", "titlePadding": 12}},
"y2": {"datum": 1}
}
}
]
}
]
}
]
}
],
"config": {
"font": "Liberation Sans",
"view": {"stroke": null},
"axis": {"domainColor": "#000000", "domainWidth": 2, "tickColor": "#000000", "tickWidth": 2, "tickSize": 8, "labelColor": "#000000", "titleColor": "#000000", "labelFontSize": 24, "titleFontSize": 24, "titleFontWeight": "normal", "grid": false, "labelPadding": 4, "titlePadding": 10, "labelFont": "Liberation Sans", "titleFont": "Liberation Sans"},
"title": {"font": "Liberation Sans", "fontSize": 24, "fontWeight": "normal", "anchor": "start", "frame": "group", "offset": 8}
}
}
